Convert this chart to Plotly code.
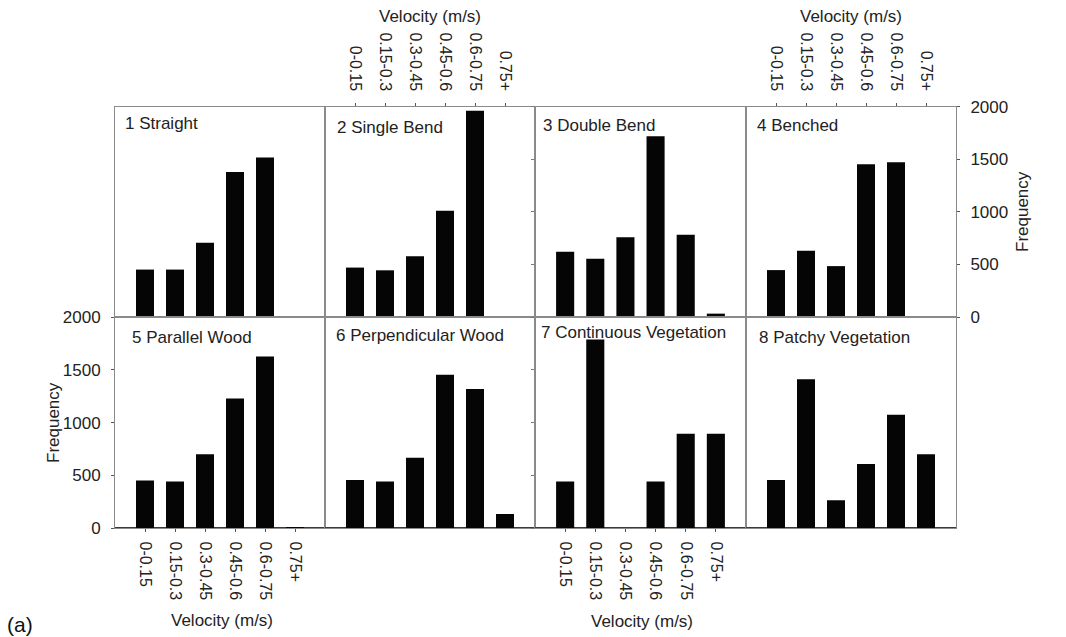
import plotly.graph_objects as go

# ---- data ----
categories = ["0-0.15", "0.15-0.3", "0.3-0.45", "0.45-0.6", "0.6-0.75", "0.75+"]
panel_titles = ["1 Straight", "2 Single Bend", "3 Double Bend", "4 Benched",
                "5 Parallel Wood", "6 Perpendicular Wood",
                "7 Continuous Vegetation", "8 Patchy Vegetation"]
straight = [451, 451, 705, 1378, 1517, 0]
single_bend = [470, 444, 578, 1010, 1962, 0]
double_bend = [621, 554, 758, 1720, 783, 32]
benched = [446, 631, 484, 1452, 1471, 0]
parallel_wood = [452, 442, 701, 1229, 1627, 8]
perpendicular_wood = [458, 442, 667, 1453, 1318, 136]
continuous_vegetation = [444, 1786, 0, 444, 894, 894]
patchy_vegetation = [457, 1411, 265, 608, 1074, 702]
y_tick_values = [0, 500, 1000, 1500, 2000]
x_axis_title = "Velocity (m/s)"
y_axis_title = "Frequency"
panel_label = "(a)"

series = [straight, single_bend, double_bend, benched,
          parallel_wood, perpendicular_wood, continuous_vegetation, patchy_vegetation]

# ---- layout geometry ----
W, H = 1066, 637
x_edges = [115, 325, 535, 746, 956]
y_edges = [106.7, 317, 528.3]


def px_x(v):
    return v / W


def px_y(v):
    return 1 - v / H


FONT = "Liberation Sans, Arial, sans-serif"
TXT = "#222222"
LINE = "#8a8a8a"

fig = go.Figure()
layout = dict(
    template="none",
    width=W, height=H,
    margin=dict(l=0, r=0, t=0, b=0, autoexpand=False),
    paper_bgcolor="white", plot_bgcolor="white",
    showlegend=False, bargap=0.4,
    annotations=[],
)

for i, vals in enumerate(series):
    row, col = divmod(i, 4)
    n = i + 1
    xa = "x" if n == 1 else f"x{n}"
    ya = "y" if n == 1 else f"y{n}"
    fig.add_trace(go.Bar(x=categories, y=vals, xaxis=xa, yaxis=ya,
                         marker=dict(color="#050505", line=dict(width=0)),
                         width=0.6))

    xdom = [px_x(x_edges[col]), px_x(x_edges[col + 1])]
    ydom = [px_y(y_edges[row + 1]), px_y(y_edges[row])]

    xaxis = dict(domain=xdom, anchor=ya, type="category", range=[-1, 6],
                 automargin=False,
                 showline=True, mirror=True, linecolor=LINE, linewidth=1,
                 showgrid=False, zeroline=False, showticklabels=False,
                 ticks="", tickangle=90, fixedrange=True,
                 tickfont=dict(family=FONT, size=16, color=TXT))
    if n in (2, 4):
        xaxis.update(side="top", ticks="outside", ticklen=3, tickcolor="#555",
                     showticklabels=True, ticklabelstandoff=6)
    if n in (5, 7):
        xaxis.update(side="bottom", ticks="outside", ticklen=3, tickcolor="#555",
                     showticklabels=True, ticklabelstandoff=6)

    yaxis = dict(domain=ydom, anchor=xa, range=[0, 2000], tickvals=y_tick_values,
                 automargin=False,
                 showline=True, mirror=True, linecolor=LINE, linewidth=1,
                 showgrid=False, zeroline=True, zerolinecolor="#3a3a3a",
                 zerolinewidth=1.5, showticklabels=False, ticks="",
                 fixedrange=True,
                 tickfont=dict(family=FONT, size=17, color=TXT))
    if n == 5:
        yaxis.update(side="left", ticks="outside", ticklen=3, tickcolor="#555",
                     showticklabels=True, ticklabelstandoff=7)
    if n == 4:
        yaxis.update(side="right", ticks="outside", ticklen=3, tickcolor="#555",
                     showticklabels=True, ticklabelstandoff=7)
    if n in (3, 7):
        yaxis.update(side="left", ticks="outside", ticklen=3, tickcolor="#777")

    key_x = "xaxis" if n == 1 else f"xaxis{n}"
    key_y = "yaxis" if n == 1 else f"yaxis{n}"
    layout[key_x] = xaxis
    layout[key_y] = yaxis

# panel titles
title_pos = [(122.7, 123.3), (335, 127.7), (541, 126), (755.5, 126),
             (130, 337.3), (333.6, 335), (539, 332.7), (757, 337.3)]
for t, (tx, ty) in zip(panel_titles, title_pos):
    layout["annotations"].append(dict(
        text=t, xref="paper", yref="paper", x=px_x(tx), y=px_y(ty),
        xanchor="left", yanchor="middle", showarrow=False,
        font=dict(family=FONT, size=17, color=TXT)))

# axis titles
for (tx, ty) in [(430, 17), (851, 17), (222, 620), (642, 621)]:
    layout["annotations"].append(dict(
        text=x_axis_title, xref="paper", yref="paper", x=px_x(tx), y=px_y(ty),
        xanchor="center", yanchor="middle", showarrow=False,
        font=dict(family=FONT, size=17, color=TXT)))
for (tx, ty) in [(53, 423), (1023, 212)]:
    layout["annotations"].append(dict(
        text=y_axis_title, xref="paper", yref="paper", x=px_x(tx), y=px_y(ty),
        xanchor="center", yanchor="middle", showarrow=False, textangle=-90,
        font=dict(family=FONT, size=17, color=TXT)))

layout["annotations"].append(dict(
    text=panel_label, xref="paper", yref="paper", x=px_x(5), y=px_y(624),
    xanchor="left", yanchor="middle", showarrow=False,
    font=dict(family=FONT, size=21, color="#111")))

fig.update_layout(**layout)
fig.write_html("out.html", config={"displayModeBar": False},
               post_script="document.body.style.margin='0';document.body.style.padding='0';")
